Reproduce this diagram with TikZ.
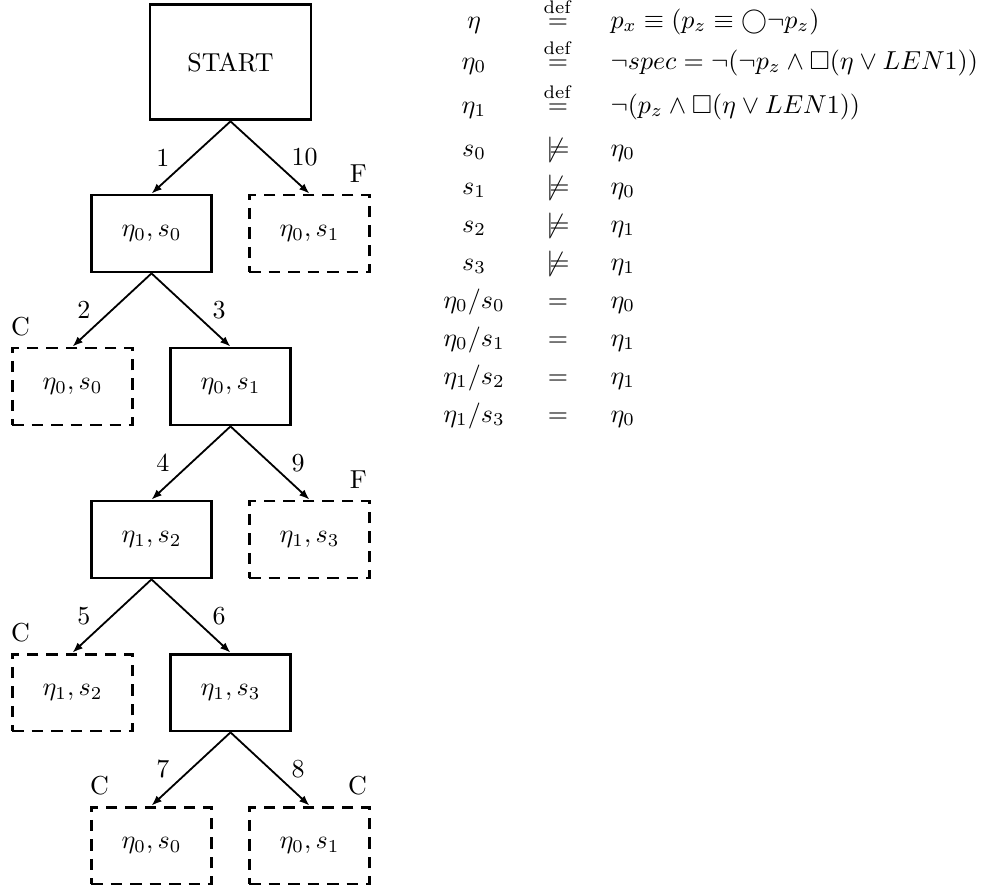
\documentclass[tikz,border=0pt]{standalone}
\usepackage{amssymb}
\usetikzlibrary{arrows.meta,positioning}
\newcommand{\isdef}{\stackrel{\mathrm{def}}{=}}
\newcommand{\notsat}{\not\models}
\tikzset{
  solidbox/.style={draw,line width=1.1pt,minimum width=46.5pt,minimum height=29.6pt,inner sep=0pt},
  dashbox/.style={solidbox,dash pattern=on 4.5pt off 3pt},
  move/.style={line width=0.7pt,-{Latex[length=4pt,width=3pt]}},
  num/.style={inner sep=0pt},
  tag/.style={inner sep=1pt}
}

\begin{document}
\begin{tikzpicture}[x=0.385pt,y=0.385pt]
  \useasboundingbox (0,0) rectangle (1005,893);
  % search tree
  \node[solidbox,minimum width=62pt,minimum height=44.6pt] (start) at (230.5,831) {START};
  \node[solidbox] (a1) at (151.5,659.5) {$\eta_0,s_0$};
  \node[dashbox]  (b1) at (309.5,659.5) {$\eta_0,s_1$};
  \node[dashbox]  (a2) at (72.5,506.5) {$\eta_0,s_0$};
  \node[solidbox] (b2) at (230.5,506.5) {$\eta_0,s_1$};
  \node[solidbox] (a3) at (151.5,353.5) {$\eta_1,s_2$};
  \node[dashbox]  (b3) at (309.5,353.5) {$\eta_1,s_3$};
  \node[dashbox]  (a4) at (72.5,200.5) {$\eta_1,s_2$};
  \node[solidbox] (b4) at (230.5,200.5) {$\eta_1,s_3$};
  \node[dashbox]  (a5) at (151.5,47.5) {$\eta_0,s_0$};
  \node[dashbox]  (b5) at (309.5,47.5) {$\eta_0,s_1$};
  % numbered steps
  \draw[move] (start.south) -- node[num,left=8pt] {1} (a1.north);
  \draw[move] (start.south) -- node[num,right=8pt] {10} (b1.north);
  \draw[move] (a1.south) -- node[num,left=8pt] {2} (a2.north);
  \draw[move] (a1.south) -- node[num,right=8pt] {3} (b2.north);
  \draw[move] (b2.south) -- node[num,left=8pt] {4} (a3.north);
  \draw[move] (b2.south) -- node[num,right=8pt] {9} (b3.north);
  \draw[move] (a3.south) -- node[num,left=8pt] {5} (a4.north);
  \draw[move] (a3.south) -- node[num,right=8pt] {6} (b4.north);
  \draw[move] (b4.south) -- node[num,left=8pt] {7} (a5.north);
  \draw[move] (b4.south) -- node[num,right=8pt] {8} (b5.north);
  % outcomes
  \node[tag,anchor=south east] (fb1) at ([shift={(-0.5pt,3pt)}]b1.north east) {F};
  \node[tag,anchor=south west] (ca2) at ([shift={(-1pt,3pt)}]a2.north west) {C};
  \node[tag,anchor=south east] (fb3) at ([shift={(-0.5pt,3pt)}]b3.north east) {F};
  \node[tag,anchor=south west] (ca4) at ([shift={(-1pt,3pt)}]a4.north west) {C};
  \node[tag,anchor=south west] (ca5) at ([shift={(-1pt,3pt)}]a5.north west) {C};
  \node[tag,anchor=south east] (cb5) at ([shift={(-0.5pt,3pt)}]b5.north east) {C};
  % definitions and facts
  \foreach \y/\lhs/\rel/\rhs [count=\i] in {
      865/{\eta}/{\isdef}/{p_x\equiv(p_z\equiv\bigcirc\neg p_z)},
      824/{\eta_0}/{\isdef}/{\neg spec=\neg(\neg p_z\wedge\Box(\eta\vee LEN1))},
      780/{\eta_1}/{\isdef}/{\neg(p_z\wedge\Box(\eta\vee LEN1))},
      737/{s_0}/{\notsat}/{\eta_0},
      699/{s_1}/{\notsat}/{\eta_0},
      661/{s_2}/{\notsat}/{\eta_1},
      623/{s_3}/{\notsat}/{\eta_1},
      585/{\eta_0/s_0}/{=}/{\eta_0},
      547/{\eta_0/s_1}/{=}/{\eta_1},
      509/{\eta_1/s_2}/{=}/{\eta_1},
      471/{\eta_1/s_3}/{=}/{\eta_0}}{
    \node[anchor=base] (lhs\i) at (474,\y) {$\lhs$};
    \node[anchor=base] (rel\i) at (558,\y) {$\rel$};
    \node[anchor=base west,inner sep=0pt] (rhs\i) at (610,\y) {$\rhs$};
  }
\end{tikzpicture}
\end{document}
